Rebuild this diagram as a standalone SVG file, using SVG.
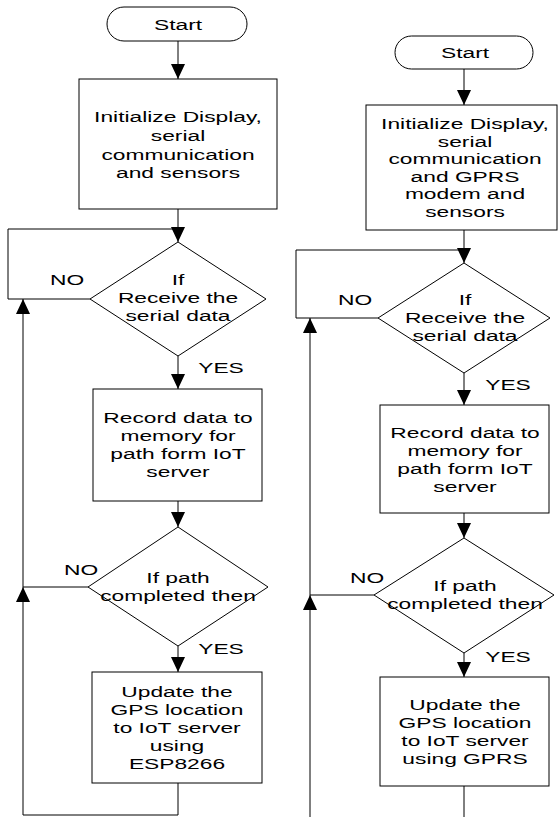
<svg xmlns="http://www.w3.org/2000/svg" width="558" height="817" viewBox="0 0 558 817">
<style>
.s{fill:#fff;stroke:#000;stroke-width:1}
.c{fill:none;stroke:#000;stroke-width:1}
.t{font-family:"Liberation Sans",Arial,sans-serif;font-size:15.5px;text-anchor:middle;fill:#000}
</style>
<defs>
<marker id="ah" markerUnits="userSpaceOnUse" markerWidth="16" markerHeight="16" refX="15" refY="7" orient="auto">
<path d="M0,0 L15,7 L0,14 Z" fill="#000"/>
</marker>
</defs>
<rect width="558" height="817" fill="#fff"/>
<g id="connectors">
<line class="c" x1="178" y1="41" x2="178" y2="79" marker-end="url(#ah)"/>
<line class="c" x1="178" y1="209" x2="178" y2="242" marker-end="url(#ah)"/>
<polyline class="c" points="90,299 8,299 8,229 178,229"/>
<line class="c" x1="178" y1="356" x2="178" y2="389" marker-end="url(#ah)"/>
<line class="c" x1="178" y1="501" x2="178" y2="527" marker-end="url(#ah)"/>
<line class="c" x1="88" y1="587" x2="23" y2="587"/>
<line class="c" x1="178" y1="646" x2="178" y2="672" marker-end="url(#ah)"/>
<polyline class="c" points="178,783 178,815 23,815 23,587" marker-end="url(#ah)"/>
<line class="c" x1="23" y1="587" x2="23" y2="299" marker-end="url(#ah)"/>
<line class="c" x1="464" y1="69" x2="464" y2="105" marker-end="url(#ah)"/>
<line class="c" x1="464" y1="230" x2="464" y2="263" marker-end="url(#ah)"/>
<polyline class="c" points="378,318 296,318 296,250 464,250"/>
<line class="c" x1="464" y1="373" x2="464" y2="405" marker-end="url(#ah)"/>
<line class="c" x1="464" y1="513" x2="464" y2="538" marker-end="url(#ah)"/>
<line class="c" x1="374" y1="595" x2="310" y2="595"/>
<line class="c" x1="464" y1="653" x2="464" y2="677" marker-end="url(#ah)"/>
<line class="c" x1="464" y1="786" x2="464" y2="817"/>
<line class="c" x1="310" y1="817" x2="310" y2="595" marker-end="url(#ah)"/>
<line class="c" x1="310" y1="595" x2="310" y2="318" marker-end="url(#ah)"/>
</g>
<g id="labels">
<text class="t" transform="translate(67,0) scale(1.47,1)" x="0" y="285">NO</text>
<text class="t" transform="translate(221,0) scale(1.47,1)" x="0" y="373">YES</text>
<text class="t" transform="translate(81,0) scale(1.47,1)" x="0" y="575">NO</text>
<text class="t" transform="translate(221,0) scale(1.47,1)" x="0" y="654">YES</text>
<text class="t" transform="translate(355,0) scale(1.47,1)" x="0" y="305">NO</text>
<text class="t" transform="translate(508,0) scale(1.47,1)" x="0" y="390">YES</text>
<text class="t" transform="translate(367,0) scale(1.47,1)" x="0" y="583">NO</text>
<text class="t" transform="translate(508,0) scale(1.47,1)" x="0" y="662">YES</text>
</g>
<g id="start1">
<rect class="s" x="107" y="7" width="140" height="34" rx="17" ry="17"/>
<text class="t" transform="translate(178,0) scale(1.47,1)" x="0" y="30">Start</text>
</g>
<g id="init1">
<rect class="s" x="79" y="79" width="198" height="130"/>
<text class="t" transform="translate(178,0) scale(1.47,1)"><tspan x="0" y="122">Initialize Display,</tspan><tspan x="0" y="141">serial</tspan><tspan x="0" y="160">communication</tspan><tspan x="0" y="178">and sensors</tspan></text>
</g>
<g id="dec1a">
<polygon class="s" points="178,242 266,299 178,356 90,299"/>
<text class="t" transform="translate(178,0) scale(1.47,1)"><tspan x="0" y="285">If</tspan><tspan x="0" y="303">Receive the</tspan><tspan x="0" y="321">serial data</tspan></text>
</g>
<g id="rec1">
<rect class="s" x="93" y="389" width="169" height="112"/>
<text class="t" transform="translate(178,0) scale(1.47,1)"><tspan x="0" y="423">Record data to</tspan><tspan x="0" y="441">memory for</tspan><tspan x="0" y="459">path form IoT</tspan><tspan x="0" y="477">server</tspan></text>
</g>
<g id="dec1b">
<polygon class="s" points="178,527 268,587 178,646 88,587"/>
<text class="t" transform="translate(178,0) scale(1.47,1)"><tspan x="0" y="583">If path</tspan><tspan x="0" y="601">completed then</tspan></text>
</g>
<g id="upd1">
<rect class="s" x="92" y="672" width="170" height="111"/>
<text class="t" transform="translate(177,0) scale(1.47,1)"><tspan x="0" y="697">Update the</tspan><tspan x="0" y="715">GPS location</tspan><tspan x="0" y="733">to IoT server</tspan><tspan x="0" y="751">using</tspan><tspan x="0" y="769">ESP8266</tspan></text>
</g>
<g id="start2">
<rect class="s" x="395" y="36" width="138" height="33" rx="16.5" ry="16.5"/>
<text class="t" transform="translate(465,0) scale(1.47,1)" x="0" y="58">Start</text>
</g>
<g id="init2">
<rect class="s" x="366" y="105" width="191" height="125"/>
<text class="t" transform="translate(465,0) scale(1.47,1)"><tspan x="0" y="129">Initialize Display,</tspan><tspan x="0" y="146.6">serial</tspan><tspan x="0" y="164.2">communication</tspan><tspan x="0" y="181.8">and GPRS</tspan><tspan x="0" y="199.4">modem and</tspan><tspan x="0" y="217">sensors</tspan></text>
</g>
<g id="dec2a">
<polygon class="s" points="464,263 550,318 464,373 378,318"/>
<text class="t" transform="translate(465,0) scale(1.47,1)"><tspan x="0" y="305">If</tspan><tspan x="0" y="323">Receive the</tspan><tspan x="0" y="341">serial data</tspan></text>
</g>
<g id="rec2">
<rect class="s" x="380" y="405" width="169" height="108"/>
<text class="t" transform="translate(465,0) scale(1.47,1)"><tspan x="0" y="438">Record data to</tspan><tspan x="0" y="456">memory for</tspan><tspan x="0" y="474">path form IoT</tspan><tspan x="0" y="492">server</tspan></text>
</g>
<g id="dec2b">
<polygon class="s" points="464,538 554,595 464,653 374,595"/>
<text class="t" transform="translate(465,0) scale(1.47,1)"><tspan x="0" y="591">If path</tspan><tspan x="0" y="609">completed then</tspan></text>
</g>
<g id="upd2">
<rect class="s" x="380" y="677" width="169" height="109"/>
<text class="t" transform="translate(465,0) scale(1.47,1)"><tspan x="0" y="710">Update the</tspan><tspan x="0" y="728">GPS location</tspan><tspan x="0" y="746">to IoT server</tspan><tspan x="0" y="764">using GPRS</tspan></text>
</g>
</svg>
